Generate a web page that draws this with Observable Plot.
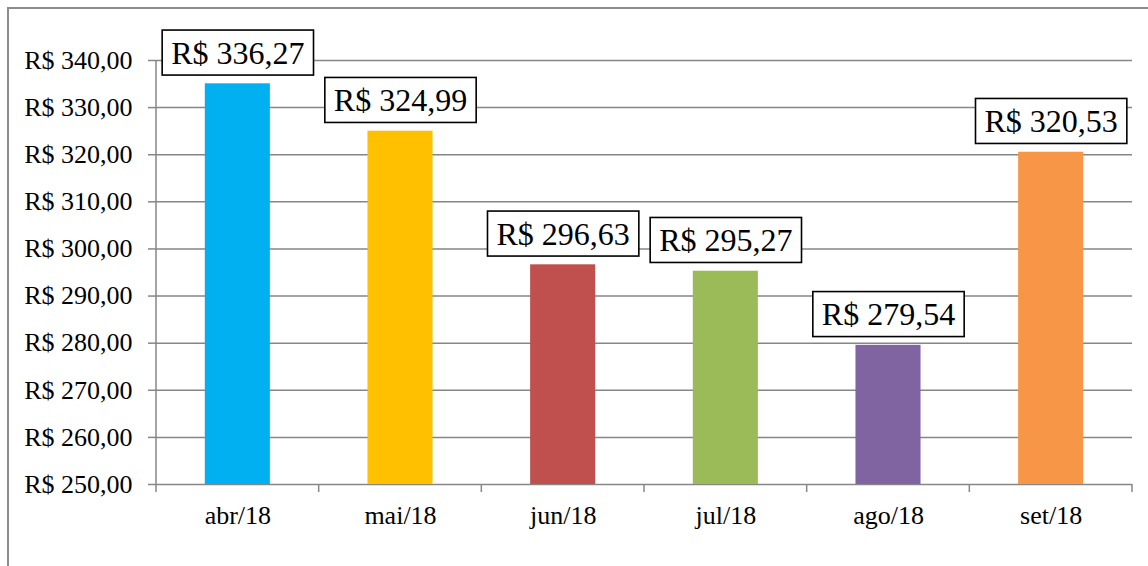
<!DOCTYPE html>
<html><head><meta charset="utf-8">
<script src="https://cdn.jsdelivr.net/npm/d3@7"></script>
<script src="https://cdn.jsdelivr.net/npm/@observablehq/plot@0.6"></script>
<style>
body{margin:0;background:#fff;}
#wrap{position:relative;width:1148px;height:566px;overflow:hidden;background:#fff;}
#border{position:absolute;left:7px;top:7px;width:1300px;height:700px;border-top:2px solid #8c8c8c;border-left:2px solid #8c8c8c;box-sizing:border-box;}
#chart{position:absolute;left:0;top:0;}
#chart svg, #chart svg text{font-family:'Liberation Serif','Times New Roman',serif;}
</style></head><body>
<div id="wrap"><div id="border"></div><div id="chart"></div></div>
<script>
const months = ["abr/18","mai/18","jun/18","jul/18","ago/18","set/18"];
const barValues = [335.05, 324.99, 296.63, 295.27, 279.54, 320.53];
const labelTexts = ["R$ 336,27","R$ 324,99","R$ 296,63","R$ 295,27","R$ 279,54","R$ 320,53"];
const colors = ["#00B0F0","#FFC000","#C0504D","#9BBB59","#8064A2","#F79646"];
const yTicks = [250,260,270,280,290,300,310,320,330,340];

const data = months.map((m,i)=>({month:m, value:barValues[i], label:labelTexts[i]}));
const fmt = d => "R$ " + d.toFixed(2).replace(".", ",");
const FONT = "'Liberation Serif','Times New Roman',serif";
const GRID = "#868686";

const plot = Plot.plot({
  width: 1148, height: 566,
  marginLeft: 156, marginRight: 16, marginTop: 60, marginBottom: 82,
  style: "font-family: 'Liberation Serif', 'Times New Roman', serif; font-size: 26px; color: #000; background: transparent; overflow: visible;",
  x: {domain: months, paddingInner: 0.6, paddingOuter: 0.3, round: false, label: null},
  y: {domain: [250, 340], label: null},
  color: {domain: months, range: colors},
  marks: [
    Plot.ruleY(yTicks, {stroke: GRID, strokeWidth: 1.5}),
    Plot.axisY({ticks: yTicks, tickSize: 8, tickPadding: 16, stroke: GRID, strokeWidth: 1.5, strokeOpacity: 1, tickFormat: fmt, fontSize: 26, fontFamily: FONT, label: null}),
    Plot.axisX({tickSize: 0, tickPadding: 21, fontSize: 26, fontFamily: FONT, label: null}),
    Plot.barY(data, {x: "month", y1: 250, y2: "value", fill: "month"}),
    Plot.text(data, {x: "month", y: "value", text: "label", dy: -30.5, fontSize: 32, fontFamily: FONT, fill: "#000", textAnchor: "middle", lineAnchor: "middle"})
  ]
});
document.getElementById("chart").appendChild(plot);

const NS = "http://www.w3.org/2000/svg";
function line(parent, x1, y1, x2, y2) {
  const l = document.createElementNS(NS, "line");
  l.setAttribute("x1", x1); l.setAttribute("y1", y1);
  l.setAttribute("x2", x2); l.setAttribute("y2", y2);
  l.setAttribute("stroke", GRID); l.setAttribute("stroke-width", 1.5);
  parent.appendChild(l);
}
try {
  const xs = plot.scale("x"), ys = plot.scale("y");
  const step = xs.step, bw = xs.bandwidth, gap = (step - bw) / 2;
  const yTop = ys.apply(340), yBot = ys.apply(250);
  const g = document.createElementNS(NS, "g");
  plot.appendChild(g);
  const x0 = xs.apply(months[0]) - gap;
  line(g, x0, yTop, x0, yBot);
  const bounds = months.map(m => xs.apply(m) - gap).concat([xs.apply(months[months.length-1]) + bw + gap]);
  bounds.forEach(b => line(g, b, yBot, b, yBot + 8));

  const labelGroup = plot.querySelector('g[aria-label="text"]');
  const texts = Array.from(labelGroup.querySelectorAll("text"));
  texts.forEach(t => {
    const bb = t.getBBox();
    const cx = bb.x + bb.width / 2, cy = bb.y + bb.height / 2;
    const w = bb.width + 18, h = 45;
    const r = document.createElementNS(NS, "rect");
    r.setAttribute("x", cx - w / 2); r.setAttribute("y", cy - h / 2);
    r.setAttribute("width", w); r.setAttribute("height", h);
    r.setAttribute("fill", "#fff"); r.setAttribute("stroke", "#000"); r.setAttribute("stroke-width", 1.6);
    const tr = t.getAttribute("transform");
    if (tr) r.setAttribute("transform", tr);
    t.parentNode.insertBefore(r, t);
  });
  plot.appendChild(labelGroup);
} catch (e) {
  console.error(e);
}
</script>
</body></html>
